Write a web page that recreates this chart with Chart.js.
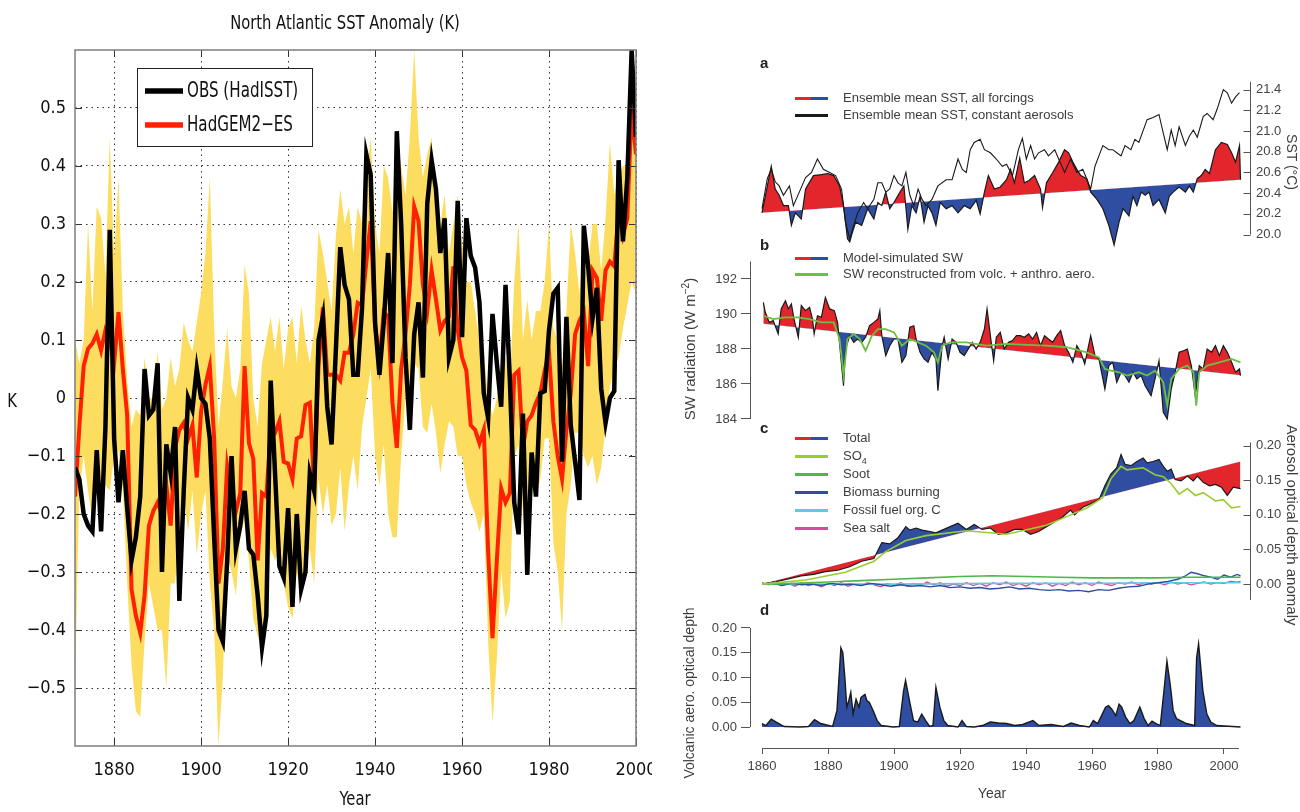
<!DOCTYPE html>
<html lang="en">
<head>
<meta charset="utf-8">
<title>North Atlantic SST and aerosol forcing</title>
<script src="https://cdn.jsdelivr.net/npm/chart.js@4.4.1/dist/chart.umd.min.js"></script>
<style>
  html, body { margin: 0; padding: 0; background: #fff; }
  body { position: relative; width: 1300px; height: 812px; overflow: hidden; }
  canvas { position: absolute; }
  #sstWrap { position: absolute; left: 0; top: 0; width: 652px; height: 812px; overflow: hidden; }
  .narrow { position: absolute; font-family: "Liberation Sans Narrow", "DejaVu Sans Condensed", sans-serif; color: #111; white-space: nowrap; transform: translate(-50%, -50%) scaleX(0.82); }
  .note { position: absolute; font-family: "Liberation Sans", Arial, sans-serif; font-size: 13px; line-height: 16px; color: #3d3d3d; white-space: nowrap; }
  .note sub { font-size: 9px; }
  .swatch { position: absolute; left: 795px; width: 33px; height: 3px; }
  .letter { position: absolute; left: 760px; font: bold 15px "Liberation Sans", Arial, sans-serif; color: #222; }
  .vtitle { position: absolute; font-family: "Liberation Sans", Arial, sans-serif; color: #3d3d3d; white-space: nowrap; transform: translate(-50%, -50%) rotate(90deg); }
  .vtitle.up { transform: translate(-50%, -50%) rotate(-90deg); }
</style>
</head>
<body>
<div id="sstWrap"><canvas id="sstChart" width="700" height="812" style="left:0;top:0"></canvas></div>
<canvas id="panelA" width="620" height="199" style="left:680px;top:68px"></canvas>
<canvas id="panelB" width="620" height="194" style="left:680px;top:243px"></canvas>
<canvas id="panelC" width="620" height="194" style="left:680px;top:423px"></canvas>
<canvas id="panelD" width="620" height="204" style="left:680px;top:608px"></canvas>

<div class="narrow" style="left:345px;top:22px;font-size:20px">North Atlantic SST Anomaly (K)</div>
<div class="narrow" style="left:12px;top:400px;font-size:20px">K</div>
<div class="narrow" style="left:355px;top:798px;font-size:20px">Year</div>

<div class="letter" style="top:54px">a</div>
<div class="letter" style="top:236px">b</div>
<div class="letter" style="top:419px">c</div>
<div class="letter" style="top:601px">d</div>

<div class="swatch" style="top:97px;background:linear-gradient(to right,#e3262b 50%,#2f4ea1 50%)"></div>
<div class="note" style="left:843px;top:90px">Ensemble mean SST, all forcings</div>
<div class="swatch" style="top:114px;background:#1a1a1a"></div>
<div class="note" style="left:843px;top:107px">Ensemble mean SST, constant aerosols</div>

<div class="swatch" style="top:257px;background:linear-gradient(to right,#e3262b 50%,#2f4ea1 50%)"></div>
<div class="note" style="left:843px;top:250px">Model-simulated SW</div>
<div class="swatch" style="top:273px;background:#6cbf45"></div>
<div class="note" style="left:843px;top:266px">SW reconstructed from volc. + anthro. aero.</div>

<div class="swatch" style="top:437px;background:linear-gradient(to right,#e3262b 50%,#2f4ea1 50%)"></div>
<div class="note" style="left:843px;top:430px">Total</div>
<div class="swatch" style="top:455px;background:#9acd32"></div>
<div class="note" style="left:843px;top:448px">SO<sub>4</sub></div>
<div class="swatch" style="top:473px;background:#4cb848"></div>
<div class="note" style="left:843px;top:466px">Soot</div>
<div class="swatch" style="top:491px;background:#2f4ea1"></div>
<div class="note" style="left:843px;top:484px">Biomass burning</div>
<div class="swatch" style="top:509px;background:#5ccbe3"></div>
<div class="note" style="left:843px;top:502px">Fossil fuel org. C</div>
<div class="swatch" style="top:527px;background:#d84a9c"></div>
<div class="note" style="left:843px;top:520px">Sea salt</div>

<div class="vtitle" style="left:1292px;top:162px;font-size:14px">SST (°C)</div>
<div class="vtitle up" style="left:689px;top:349px;font-size:15px">SW radiation (W m<sup style="font-size:10px">−2</sup>)</div>
<div class="vtitle" style="left:1292px;top:525px;font-size:15px">Aerosol optical depth anomaly</div>
<div class="vtitle up" style="left:689px;top:693px;font-size:14px">Volcanic aero. optical depth</div>
<div class="note" style="left:992px;top:793px;font-size:14px;transform:translate(-50%,-50%)">Year</div>

<script>
// ---------- left: North Atlantic SST anomaly, 1871-2000 ----------
const sstFirstYear = 1871;
const sstYearTicks = [1880, 1900, 1920, 1940, 1960, 1980, 2000];
const sstTicks = [-0.5, -0.4, -0.3, -0.2, -0.1, 0, 0.1, 0.2, 0.3, 0.4, 0.5];

const obsSst = [
    -0.12, -0.14, -0.20, -0.22, -0.23, -0.09, -0.23, -0.05, 0.29, -0.07,
    -0.18, -0.09, -0.19, -0.28, -0.24, -0.17, 0.05, -0.03, -0.02, 0.06,
    -0.30, -0.08, -0.13, -0.05, -0.35, -0.16, 0.00, -0.02, 0.05, 0.00,
    -0.01, -0.07, -0.24, -0.40, -0.42, -0.28, -0.10, -0.26, -0.22, -0.16,
    -0.26, -0.27, -0.34, -0.43, -0.375, 0.03, -0.13, -0.29, -0.31, -0.19,
    -0.36, -0.20, -0.33, -0.30, -0.13, -0.16, 0.10, 0.14, -0.015, -0.08,
    0.085, 0.26, 0.195, 0.17, 0.04, 0.04, 0.155, 0.42, 0.385, 0.13,
    0.04, 0.13, 0.25, 0.06, 0.46, 0.30, 0.07, -0.055, 0.11, 0.165,
    0.035, 0.335, 0.41, 0.36, 0.25, 0.31, 0.07, 0.10, 0.34, 0.105,
    0.31, 0.245, 0.225, 0.165, 0.008, -0.035, 0.145, 0.06, -0.015, 0.195,
    0.03, -0.18, -0.235, -0.027, -0.305, -0.094, -0.17, 0.008, 0.012, 0.117,
    0.18, 0.19, -0.11, 0.14, -0.047, -0.11, -0.176, 0.297, 0.227, 0.137,
    0.19, 0.016, -0.043, 0.0, 0.012, 0.41, 0.27, 0.38, 0.60, 0.45,
];

const modelSst = [
    -0.17, -0.05, 0.055, 0.085, 0.094, 0.11, 0.082, 0.117, 0.10, 0.06,
    0.148, 0.05, -0.03, -0.33, -0.375, -0.405, -0.34, -0.22, -0.195, -0.18,
    -0.20, -0.15, -0.22, -0.086, -0.055, -0.043, -0.07, -0.047, -0.137, -0.023,
    0.023, 0.055, -0.07, -0.32, -0.26, -0.117, -0.164, -0.195, -0.164, 0.055,
    -0.078, -0.105, -0.28, -0.164, -0.17, -0.055, -0.06, -0.04, -0.11, -0.113,
    -0.14, -0.07, -0.066, -0.012, -0.008, -0.156, 0.055, 0.156, 0.04, 0.04,
    0.04, 0.03, 0.078, 0.078, 0.11, 0.164, 0.16, 0.235, 0.305, 0.125,
    0.063, 0.148, 0.14, -0.008, -0.086, 0.05, 0.11, 0.195, 0.33, 0.305,
    0.195, 0.15, 0.22, 0.17, 0.117, 0.133, 0.14, 0.227, 0.117, 0.07,
    0.047, -0.047, -0.055, -0.078, -0.055, -0.265, -0.414, -0.28, -0.156, -0.18,
    -0.164, 0.04, 0.047, -0.086, -0.04, -0.03, -0.008, 0.008, 0.047, 0.078,
    -0.04, -0.10, -0.14, -0.055, 0.008, 0.11, 0.133, 0.148, 0.055, 0.22,
    0.207, 0.133, 0.22, 0.235, 0.227, 0.32, 0.28, 0.31, 0.50, 0.42,
];

// ensemble spread (upper / lower edge of the shaded band)
const spreadHi = [
    0.10, 0.06, 0.10, 0.30, 0.15, 0.33, 0.31, 0.21, 0.45, 0.24,
    0.38, 0.15, 0.03, -0.05, -0.02, -0.03, 0.07, 0.00, 0.00, 0.08,
    -0.02, 0.00, 0.07, 0.02, 0.05, 0.13, 0.10, 0.08, 0.13, 0.18,
    0.25, 0.38, 0.12, -0.05, 0.03, 0.12, 0.02, 0.00, 0.05, 0.23,
    0.18, 0.00, -0.05, 0.06, 0.10, 0.14, 0.08, 0.14, 0.05, 0.12,
    0.14, 0.06, 0.16, 0.10, 0.06, 0.12, 0.29, 0.25, 0.20, 0.15,
    0.28, 0.36, 0.30, 0.33, 0.25, 0.33, 0.30, 0.38, 0.45, 0.30,
    0.25, 0.40, 0.38, 0.32, 0.45, 0.40, 0.35, 0.45, 0.60, 0.45,
    0.38, 0.42, 0.45, 0.30, 0.30, 0.35, 0.25, 0.30, 0.35, 0.27,
    0.20, 0.20, 0.15, 0.10, 0.08, 0.00, -0.03, 0.00, 0.05, 0.07,
    0.02, 0.20, 0.30, 0.10, 0.17, 0.10, 0.15, 0.15, 0.20, 0.30,
    0.12, 0.10, 0.05, 0.15, 0.30, 0.25, 0.18, 0.27, 0.23, 0.30,
    0.30, 0.22, 0.31, 0.44, 0.35, 0.38, 0.40, 0.40, 0.60, 0.55,
];

const spreadLo = [
    -0.49, -0.16, -0.10, -0.16, -0.21, -0.16, -0.16, -0.15, -0.16, -0.10,
    -0.09, -0.16, -0.32, -0.46, -0.54, -0.55, -0.42, -0.32, -0.36, -0.40,
    -0.40, -0.50, -0.32, -0.32, -0.23, -0.16, -0.23, -0.16, -0.27, -0.20,
    -0.16, -0.32, -0.40, -0.60, -0.48, -0.27, -0.30, -0.34, -0.24, -0.21,
    -0.28, -0.38, -0.41, -0.43, -0.40, -0.26, -0.28, -0.26, -0.32, -0.36,
    -0.38, -0.30, -0.34, -0.30, -0.26, -0.32, -0.14, -0.20, -0.15, -0.22,
    -0.20, -0.12, -0.23, -0.15, -0.10, -0.16, -0.05, 0.00, 0.05, -0.10,
    -0.15, -0.08, -0.20, -0.24, -0.24, -0.10, 0.00, 0.02, 0.06, 0.05,
    -0.05, -0.06, -0.01, -0.06, -0.13, -0.08, -0.04, -0.05, -0.10, -0.10,
    -0.15, -0.18, -0.20, -0.23, -0.20, -0.42, -0.56, -0.45, -0.30, -0.38,
    -0.35, -0.10, -0.08, -0.20, -0.28, -0.16, -0.17, -0.14, -0.07, -0.07,
    -0.25, -0.30, -0.40, -0.20, -0.15, -0.06, -0.06, -0.10, -0.12, -0.10,
    -0.15, -0.12, -0.05, 0.02, 0.05, 0.07, 0.12, 0.16, 0.20, 0.18,
];

// ---------- right: panels a-d, 1860-2005 ([year, value]) ----------
const rightYearTicks = [1860, 1880, 1900, 1920, 1940, 1960, 1980, 2000];

// a: SST (°C)
const sstTicksA = [20.0, 20.2, 20.4, 20.6, 20.8, 21.0, 21.2, 21.4];
const sstTrendA = [[1860, 20.21], [2005, 20.53]];
const sstAllForcings = [
    [1860.0, 20.21], [1861.0, 20.37], [1862.8, 20.66], [1864.0, 20.44], [1865.2, 20.38],
    [1866.5, 20.28], [1868.0, 20.28], [1868.9, 20.09], [1870.1, 20.21], [1871.9, 20.15],
    [1873.2, 20.44], [1875.6, 20.57], [1878.0, 20.58], [1879.9, 20.59], [1881.7, 20.57],
    [1883.5, 20.47], [1884.7, 20.28], [1885.9, 19.96], [1886.6, 19.93], [1887.2, 20.0],
    [1888.4, 20.12], [1890.2, 20.09], [1892.0, 20.25], [1893.9, 20.15], [1895.1, 20.31],
    [1896.3, 20.28], [1897.5, 20.41], [1898.7, 20.25], [1900.0, 20.31], [1901.8, 20.41],
    [1903.0, 20.47], [1904.2, 20.05], [1905.4, 20.28], [1906.7, 20.21], [1907.9, 20.37],
    [1909.1, 20.12], [1910.3, 20.28], [1911.5, 20.21], [1912.7, 20.09], [1914.0, 20.31],
    [1915.8, 20.25], [1917.6, 20.28], [1919.4, 20.21], [1921.3, 20.28], [1923.1, 20.25],
    [1924.9, 20.33], [1926.1, 20.2], [1927.4, 20.41], [1928.6, 20.57], [1930.4, 20.44],
    [1932.2, 20.46], [1934.1, 20.53], [1935.3, 20.63], [1936.5, 20.5], [1938.1, 20.74],
    [1939.5, 20.5], [1940.8, 20.52], [1942.6, 20.57], [1944.4, 20.44], [1945.0, 20.26],
    [1946.2, 20.5], [1948.1, 20.6], [1949.9, 20.7], [1951.7, 20.82], [1952.9, 20.79],
    [1954.2, 20.7], [1955.4, 20.63], [1956.6, 20.57], [1958.4, 20.54], [1959.6, 20.41],
    [1961.5, 20.34], [1963.3, 20.25], [1965.1, 20.09], [1966.7, 19.9], [1968.2, 20.12],
    [1969.4, 20.25], [1971.2, 20.18], [1972.4, 20.37], [1973.6, 20.28], [1974.9, 20.41],
    [1976.1, 20.38], [1977.3, 20.41], [1978.5, 20.28], [1980.3, 20.34], [1982.2, 20.21],
    [1983.4, 20.37], [1984.6, 20.41], [1986.4, 20.46], [1988.3, 20.41], [1989.5, 20.47],
    [1990.7, 20.41], [1991.9, 20.54], [1993.1, 20.57], [1994.3, 20.63], [1995.6, 20.59],
    [1997.4, 20.82], [1999.2, 20.89], [2001.0, 20.87], [2002.3, 20.79], [2003.5, 20.7],
    [2004.7, 20.86], [2005.0, 20.53],
];
const sstConstAerosol = [
    [1860.0, 20.25], [1861.6, 20.54], [1862.8, 20.63], [1864.0, 20.51], [1865.2, 20.47],
    [1866.5, 20.38], [1868.3, 20.47], [1869.5, 20.28], [1871.3, 20.41], [1873.2, 20.55],
    [1875.0, 20.6], [1876.8, 20.73], [1878.6, 20.63], [1880.5, 20.6], [1882.3, 20.57],
    [1884.1, 20.44], [1885.3, 20.12], [1886.6, 19.96], [1887.8, 20.09], [1889.0, 20.21],
    [1890.8, 20.31], [1892.0, 20.25], [1893.9, 20.34], [1895.1, 20.5], [1896.3, 20.5],
    [1897.5, 20.41], [1898.7, 20.44], [1900.0, 20.57], [1901.2, 20.5], [1902.4, 20.47],
    [1903.6, 20.6], [1904.8, 20.38], [1906.0, 20.28], [1907.3, 20.44], [1908.5, 20.34],
    [1909.7, 20.28], [1911.5, 20.34], [1913.3, 20.47], [1915.8, 20.53], [1917.6, 20.53],
    [1919.4, 20.73], [1920.7, 20.63], [1921.9, 20.6], [1923.1, 20.82], [1924.3, 20.89],
    [1926.1, 20.92], [1927.4, 20.82], [1929.2, 20.79], [1931.0, 20.73], [1932.8, 20.66],
    [1934.1, 20.68], [1935.9, 20.57], [1937.7, 20.82], [1938.9, 20.93], [1940.1, 20.73],
    [1941.4, 20.86], [1942.6, 20.73], [1943.8, 20.79], [1945.6, 20.82], [1946.8, 20.76],
    [1948.7, 20.82], [1949.9, 20.73], [1951.7, 20.6], [1953.5, 20.73], [1955.4, 20.6],
    [1957.2, 20.63], [1958.4, 20.54], [1959.6, 20.44], [1960.9, 20.66], [1962.1, 20.76],
    [1963.3, 20.86], [1965.1, 20.82], [1966.3, 20.82], [1967.5, 20.79], [1968.8, 20.76],
    [1970.0, 20.86], [1971.8, 20.82], [1973.0, 20.92], [1974.2, 20.89], [1976.7, 21.11],
    [1978.5, 21.13], [1980.3, 21.16], [1981.6, 20.98], [1982.8, 20.82], [1984.0, 21.01],
    [1985.2, 20.86], [1986.4, 21.04], [1988.3, 20.86], [1989.5, 20.95], [1990.7, 21.01],
    [1991.9, 20.94], [1993.7, 21.14], [1994.9, 21.17], [1996.7, 21.11], [1997.9, 21.21],
    [1999.8, 21.40], [2001.0, 21.37], [2002.3, 21.27], [2003.5, 21.33], [2004.7, 21.37],
];

// b: SW radiation (W m-2)
const swTicks = [184, 186, 188, 190, 192];
const swTrend = [[1860, 189.45], [2005, 186.5]];
const swModel = [
    [1860.4, 190.67], [1861.0, 190.1], [1862.2, 189.52], [1863.4, 189.62], [1864.9, 188.86],
    [1865.8, 190.29], [1867.1, 190.76], [1868.0, 190.29], [1868.9, 190.57], [1869.7, 189.71],
    [1871.0, 188.67], [1871.9, 190.48], [1873.2, 190.19], [1874.4, 190.38], [1875.3, 189.71],
    [1875.8, 188.86], [1876.8, 189.9], [1878.0, 189.81], [1879.2, 190.95], [1880.5, 190.29],
    [1881.9, 190.19], [1882.9, 189.52], [1884.7, 185.9], [1885.3, 188.0], [1886.6, 188.76],
    [1887.8, 188.38], [1889.0, 188.57], [1890.2, 188.38], [1891.4, 188.67], [1892.6, 189.33],
    [1893.9, 189.52], [1895.1, 189.71], [1895.7, 190.19], [1896.3, 188.76], [1897.5, 187.62],
    [1898.7, 188.19], [1900.0, 188.57], [1901.2, 188.57], [1902.4, 187.24], [1903.6, 187.62],
    [1904.8, 189.24], [1906.0, 189.33], [1906.7, 188.57], [1907.9, 187.81], [1909.1, 187.43],
    [1910.3, 187.24], [1911.5, 187.81], [1912.7, 187.43], [1913.3, 185.62], [1914.6, 188.19],
    [1915.2, 188.67], [1916.4, 187.43], [1917.6, 188.57], [1918.8, 188.38], [1920.0, 187.81],
    [1921.3, 187.62], [1922.5, 188.0], [1923.7, 188.38], [1924.9, 188.0], [1926.1, 188.38],
    [1927.4, 189.14], [1928.2, 190.29], [1929.2, 188.76], [1930.2, 187.33], [1931.0, 188.67],
    [1932.2, 188.95], [1933.4, 188.0], [1934.7, 188.38], [1935.9, 188.48], [1937.1, 188.76],
    [1938.3, 188.76], [1939.5, 188.67], [1940.8, 188.86], [1942.0, 188.57], [1943.2, 188.95],
    [1944.4, 188.19], [1945.6, 188.76], [1946.8, 188.57], [1948.1, 188.38], [1949.3, 188.76],
    [1950.5, 189.05], [1951.7, 188.19], [1952.9, 187.81], [1954.2, 187.24], [1955.4, 188.19],
    [1956.6, 187.81], [1957.8, 187.14], [1959.6, 188.76], [1960.9, 187.62], [1962.1, 187.43],
    [1963.9, 185.71], [1965.1, 187.05], [1966.3, 187.24], [1967.5, 186.1], [1968.8, 186.67],
    [1970.0, 186.48], [1971.2, 186.1], [1972.4, 186.67], [1973.6, 186.29], [1974.9, 186.48],
    [1976.1, 185.9], [1977.9, 185.33], [1979.1, 186.29], [1980.3, 187.33], [1981.6, 184.38],
    [1982.8, 184.0], [1984.0, 185.71], [1985.2, 186.67], [1986.4, 187.81], [1987.7, 187.9],
    [1988.9, 188.0], [1990.1, 187.05], [1991.3, 185.33], [1992.5, 187.05], [1993.7, 186.86],
    [1994.9, 188.0], [1996.2, 187.81], [1997.4, 188.19], [1998.6, 187.62], [1999.8, 188.19],
    [2001.0, 187.81], [2002.3, 187.24], [2003.5, 186.67], [2004.7, 186.86], [2005.0, 186.48],
];
const swReconstructed = [
    [1860.4, 189.9], [1863.4, 189.71], [1867.1, 189.81], [1870.7, 189.81], [1874.4, 189.71],
    [1878.0, 189.52], [1881.7, 189.52], [1883.5, 188.57], [1884.7, 186.48], [1885.9, 188.57],
    [1887.8, 188.86], [1889.6, 188.57], [1891.4, 187.9], [1893.3, 188.76], [1895.1, 189.14],
    [1897.5, 189.14], [1900.0, 188.95], [1902.4, 188.19], [1903.6, 188.38], [1904.8, 188.57],
    [1907.3, 188.38], [1909.7, 188.19], [1912.1, 187.81], [1913.3, 187.24], [1914.6, 188.19],
    [1917.0, 188.38], [1921.9, 188.38], [1928.0, 188.19], [1934.1, 188.29], [1940.1, 188.23],
    [1946.2, 188.19], [1952.3, 188.1], [1958.4, 187.81], [1962.1, 187.52], [1963.9, 186.86],
    [1965.7, 186.76], [1968.2, 186.67], [1970.6, 186.48], [1974.2, 186.67], [1976.7, 186.48],
    [1979.1, 186.76], [1981.6, 186.1], [1982.8, 184.76], [1984.0, 186.29], [1986.4, 186.86],
    [1988.9, 187.05], [1990.7, 186.67], [1991.6, 184.76], [1992.5, 186.67], [1994.9, 187.05],
    [1998.6, 187.24], [2002.3, 187.43], [2005.0, 187.24],
];

// c: aerosol optical depth anomaly
const aodTicks = [0.00, 0.05, 0.10, 0.15, 0.20];
const aodTrend = [[1860, 0.0], [2005, 0.177]];
const aodTotal = [
    [1860.0, 0.0], [1864.6, 0.004], [1868.3, 0.008], [1871.9, 0.012], [1875.6, 0.014],
    [1879.2, 0.018], [1882.9, 0.02], [1886.6, 0.025], [1890.2, 0.033], [1893.9, 0.037],
    [1896.3, 0.06], [1898.7, 0.058], [1901.2, 0.067], [1903.6, 0.083], [1904.8, 0.078],
    [1906.7, 0.081], [1908.5, 0.078], [1910.9, 0.076], [1912.7, 0.074], [1914.6, 0.078],
    [1917.0, 0.083], [1919.4, 0.088], [1921.9, 0.079], [1924.3, 0.086], [1926.7, 0.079],
    [1929.2, 0.081], [1931.6, 0.072], [1934.1, 0.074], [1936.5, 0.079], [1938.9, 0.079],
    [1941.4, 0.072], [1943.8, 0.076], [1946.2, 0.083], [1948.7, 0.09], [1951.1, 0.097],
    [1953.5, 0.107], [1954.7, 0.1], [1957.2, 0.111], [1959.6, 0.116], [1962.1, 0.122],
    [1963.9, 0.142], [1965.7, 0.159], [1967.5, 0.168], [1968.8, 0.187], [1970.0, 0.173],
    [1971.8, 0.171], [1973.6, 0.177], [1975.5, 0.182], [1976.7, 0.175], [1978.5, 0.177],
    [1980.3, 0.18], [1981.6, 0.17], [1982.8, 0.163], [1984.0, 0.166], [1985.2, 0.151],
    [1987.0, 0.149], [1988.9, 0.156], [1990.7, 0.149], [1991.9, 0.156], [1993.7, 0.147],
    [1995.6, 0.142], [1997.4, 0.144], [1999.2, 0.14], [2001.0, 0.128], [2002.8, 0.14],
    [2005.0, 0.138],
];
const aodSulphate = [
    [1860.0, 0.0], [1873.2, 0.006], [1885.3, 0.017], [1893.9, 0.033], [1897.5, 0.047],
    [1903.6, 0.063], [1909.7, 0.07], [1921.9, 0.077], [1934.1, 0.072], [1946.2, 0.085],
    [1953.5, 0.1], [1958.4, 0.11], [1963.3, 0.125], [1965.7, 0.152], [1968.8, 0.17],
    [1970.6, 0.165], [1975.5, 0.168], [1979.1, 0.158], [1981.6, 0.155], [1984.0, 0.145],
    [1986.4, 0.13], [1988.9, 0.138], [1991.3, 0.128], [1993.7, 0.132], [1997.4, 0.12],
    [1999.8, 0.122], [2002.3, 0.11], [2005.0, 0.112],
];
const aodSoot = [
    [1860, 0.0], [1870, 0.001], [1880, 0.003], [1890, 0.005], [1900, 0.007], [1910, 0.009],
    [1920, 0.011], [1930, 0.012], [1940, 0.011], [1950, 0.010], [1960, 0.009], [1970, 0.009],
    [1980, 0.009], [1990, 0.010], [2000, 0.010], [2005, 0.010],
];
const aodBiomass = [
    [1860, 0.000], [1863, 0.002], [1866, -0.002], [1869, 0.001], [1872, -0.001], [1875, 0.000],
    [1878, -0.002], [1881, 0.001], [1884, -0.001], [1887, 0.000], [1890, -0.002], [1893, 0.001],
    [1896, -0.001], [1899, -0.003], [1902, -0.001], [1905, -0.003], [1908, -0.002], [1911, -0.004],
    [1914, -0.002], [1917, -0.005], [1920, -0.004], [1923, -0.006], [1926, -0.005], [1929, -0.007],
    [1932, -0.006], [1935, -0.004], [1938, -0.007], [1941, -0.006], [1944, -0.008], [1947, -0.009],
    [1950, -0.008], [1953, -0.010], [1956, -0.009], [1959, -0.011], [1962, -0.008], [1965, -0.009],
    [1968, -0.006], [1971, -0.004], [1974, -0.003], [1977, 0.000], [1980, 0.002], [1983, 0.004],
    [1986, 0.007], [1988, 0.011], [1990, 0.017], [1992, 0.015], [1994, 0.012], [1996, 0.010],
    [1998, 0.007], [2000, 0.013], [2002, 0.010], [2004, 0.014], [2005, 0.012],
];
const aodFossilOC = [
    [1860, 0.0], [1900, 0.0], [1930, 0.001], [1960, 0.001], [1980, 0.002], [2005, 0.002],
];
const aodSeaSalt = [
    [1860, 0.002], [1862, -0.001], [1864, 0.003], [1866, -0.002], [1868, 0.001], [1870, -0.003],
    [1872, 0.002], [1874, -0.002], [1876, 0.000], [1878, -0.004], [1880, 0.001], [1882, -0.002],
    [1884, 0.002], [1886, -0.003], [1888, 0.000], [1890, -0.002], [1892, 0.002], [1894, -0.001],
    [1896, -0.004], [1898, 0.001], [1900, -0.002], [1902, 0.002], [1904, -0.003], [1906, 0.001],
    [1908, -0.002], [1910, 0.003], [1912, -0.001], [1914, 0.002], [1916, -0.003], [1918, 0.000],
    [1920, -0.002], [1922, 0.002], [1924, -0.002], [1926, 0.001], [1928, -0.003], [1930, 0.002],
    [1932, -0.001], [1934, 0.003], [1936, -0.002], [1938, 0.001], [1940, -0.003], [1942, 0.002],
    [1944, -0.001], [1946, 0.002], [1948, -0.003], [1950, 0.001], [1952, -0.002], [1954, 0.003],
    [1956, -0.001], [1958, 0.002], [1960, -0.002], [1962, 0.003], [1964, 0.000], [1966, -0.002],
    [1968, 0.002], [1970, 0.000], [1972, 0.003], [1974, -0.001], [1976, 0.002], [1978, 0.000],
    [1980, 0.002], [1982, -0.001], [1984, 0.003], [1986, 0.000], [1988, 0.002], [1990, -0.001],
    [1992, 0.001], [1994, 0.003], [1996, 0.000], [1998, 0.002], [2000, 0.001], [2002, 0.004],
    [2004, 0.003], [2005, 0.004],
];

// d: volcanic aerosol optical depth
const volcTicks = [0.00, 0.05, 0.10, 0.15, 0.20];
const volcanicAod = [
    [1860.0, 0.007], [1861.2, 0.003], [1862.8, 0.016], [1864.3, 0.01], [1866.7, 0.001],
    [1871.6, 0.0], [1874.1, 0.001], [1875.9, 0.015], [1877.8, 0.007], [1881.4, 0.001],
    [1882.7, 0.033], [1883.9, 0.16], [1884.5, 0.15], [1885.1, 0.1], [1885.7, 0.04],
    [1886.3, 0.053], [1886.9, 0.07], [1887.6, 0.027], [1888.5, 0.056], [1889.4, 0.04],
    [1890.0, 0.06], [1891.2, 0.066], [1891.8, 0.053], [1892.5, 0.05], [1893.7, 0.033],
    [1894.9, 0.013], [1896.1, 0.003], [1899.8, 0.0], [1901.6, 0.001], [1902.9, 0.073],
    [1903.5, 0.094], [1904.7, 0.053], [1905.9, 0.013], [1907.2, 0.01], [1908.4, 0.026],
    [1909.6, 0.013], [1910.8, 0.001], [1911.8, 0.003], [1912.7, 0.08], [1913.9, 0.04],
    [1915.1, 0.013], [1916.3, 0.003], [1919.4, 0.0], [1920.6, 0.013], [1921.9, 0.001],
    [1924.3, 0.0], [1926.8, 0.003], [1929.2, 0.01], [1931.7, 0.008], [1934.1, 0.007],
    [1936.6, 0.003], [1939.0, 0.005], [1942.1, 0.013], [1943.9, 0.003], [1947.6, 0.005],
    [1951.3, 0.001], [1953.7, 0.008], [1956.2, 0.003], [1959.2, 0.0], [1960.4, 0.013],
    [1961.7, 0.007], [1962.9, 0.023], [1964.1, 0.04], [1965.0, 0.043], [1966.0, 0.036],
    [1967.2, 0.023], [1968.2, 0.046], [1969.0, 0.04], [1970.2, 0.02], [1971.5, 0.007],
    [1972.7, 0.013], [1974.5, 0.04], [1975.8, 0.017], [1977.0, 0.003], [1978.2, 0.012],
    [1979.4, 0.007], [1980.7, 0.003], [1981.9, 0.079], [1982.7, 0.133], [1983.7, 0.086],
    [1984.6, 0.033], [1985.6, 0.017], [1986.8, 0.013], [1988.6, 0.007], [1989.8, 0.005],
    [1991.1, 0.003], [1991.7, 0.14], [1992.3, 0.168], [1993.6, 0.073], [1994.8, 0.026],
    [1996.0, 0.01], [1997.8, 0.003], [2005.0, 0.0],
];

const RED = "#e3262b";
const BLUE = "#2f4ea1";
const NARROW = '"Liberation Sans Narrow", "DejaVu Sans Condensed", sans-serif';
const SANS = '"Liberation Sans", Arial, sans-serif';

const yearPoints = (vals, start) => vals.map((v, i) => ({ x: start + i, y: v }));
const pairPoints = (arr) => arr.map(([x, y]) => ({ x, y }));
const fixedTicks = (vals) => (scale) => {
    scale.ticks = vals.map((v) => ({ value: v }));
};
const minusLabel = (v) =>
    v === 0 ? "0" : (v < 0 ? "\u2212" : "") + Math.abs(v).toFixed(1);
const yearLabel = (v) => String(v);

Chart.defaults.animation = false;
Chart.defaults.events = [];

// frame, inward ticks and the legend box for the SST panel
const sstFrame = {
    id: "sstFrame",
    afterDraw(chart) {
        const { ctx, chartArea: a, scales } = chart;
        ctx.save();
        ctx.strokeStyle = "#333";
        ctx.lineWidth = 1;
        ctx.beginPath();
        scales.x.ticks.forEach((t) => {
            const x = Math.round(scales.x.getPixelForValue(t.value)) + 0.5;
            ctx.moveTo(x, a.bottom);
            ctx.lineTo(x, a.bottom - 7);
            ctx.moveTo(x, a.top);
            ctx.lineTo(x, a.top + 7);
        });
        scales.y.ticks.forEach((t) => {
            const y = Math.round(scales.y.getPixelForValue(t.value)) + 0.5;
            ctx.moveTo(a.left, y);
            ctx.lineTo(a.left + 7, y);
            ctx.moveTo(a.right, y);
            ctx.lineTo(a.right - 7, y);
        });
        ctx.stroke();

        ctx.strokeStyle = "#7d7d7d";
        ctx.lineWidth = 1.5;
        ctx.strokeRect(a.left, a.top, a.width, a.height);

        // legend
        ctx.fillStyle = "#fff";
        ctx.fillRect(137, 68, 175, 78);
        ctx.strokeStyle = "#222";
        ctx.lineWidth = 1;
        ctx.strokeRect(137.5, 68.5, 175, 78);
        const rows = [
            [chart.data.datasets[0], 91],
            [chart.data.datasets[1], 125],
        ];
        ctx.font = "21px " + NARROW;
        ctx.textBaseline = "middle";
        rows.forEach(([ds, y]) => {
            ctx.strokeStyle = ds.borderColor;
            ctx.lineWidth = 5.5;
            ctx.beginPath();
            ctx.moveTo(145, y);
            ctx.lineTo(183, y);
            ctx.stroke();
            ctx.save();
            ctx.translate(187, y + 1);
            ctx.scale(0.8, 1);
            ctx.fillStyle = "#111";
            ctx.fillText(ds.label, 0, 0);
            ctx.restore();
        });
        ctx.restore();
    },
};

new Chart(document.getElementById("sstChart"), {
    type: "line",
    data: {
        datasets: [
            {
                label: "OBS (HadISST)",
                data: yearPoints(obsSst, sstFirstYear),
                borderColor: "#000",
                borderWidth: 4.5,
                pointRadius: 0,
                fill: false,
            },
            {
                label: "HadGEM2\u2212ES",
                data: yearPoints(modelSst, sstFirstYear),
                borderColor: "#ff2000",
                borderWidth: 4,
                pointRadius: 0,
                fill: false,
            },
            {
                label: "spread max",
                data: yearPoints(spreadHi, sstFirstYear),
                borderWidth: 0,
                pointRadius: 0,
                backgroundColor: "#fddd5f",
                fill: "+1",
            },
            {
                label: "spread min",
                data: yearPoints(spreadLo, sstFirstYear),
                borderWidth: 0,
                pointRadius: 0,
                fill: false,
            },
        ],
    },
    options: {
        responsive: false,
        layout: { padding: { top: 50, right: 64, left: 0, bottom: 0 } },
        plugins: { legend: { display: false }, tooltip: { enabled: false } },
        elements: { line: { tension: 0 } },
        scales: {
            x: {
                type: "linear",
                min: 1871,
                max: 2000,
                afterBuildTicks: fixedTicks(sstYearTicks),
                afterFit: (s) => { s.height = 66; },
                ticks: { color: "#111", font: { family: NARROW, size: 18 }, padding: 14, maxRotation: 0, autoSkip: false, callback: yearLabel },
                grid: { color: "#333", lineWidth: 1, drawTicks: false },
                border: { display: false, dash: [1.5, 4] },
            },
            y: {
                min: -0.6,
                max: 0.6,
                afterBuildTicks: fixedTicks(sstTicks),
                afterFit: (s) => { s.width = 75; },
                ticks: { color: "#111", font: { family: NARROW, size: 18 }, padding: 9, autoSkip: false, callback: minusLabel },
                grid: { color: "#333", lineWidth: 1, drawTicks: false },
                border: { display: false, dash: [1.5, 4] },
            },
        },
    },
    plugins: [sstFrame],
});

// axis lines that only span part of a panel, with optional inward ticks
const axisLines = {
    id: "axisLines",
    afterDraw(chart, args, opts) {
        const { ctx, chartArea: a, scales } = chart;
        ctx.save();
        ctx.strokeStyle = "#555";
        ctx.lineWidth = 1;
        if (opts.y) {
            const ys = scales.y;
            const x = (opts.y.side === "right" ? a.right : a.left) + 0.5;
            ctx.beginPath();
            ctx.moveTo(x, ys.getPixelForValue(opts.y.from));
            ctx.lineTo(x, ys.getPixelForValue(opts.y.to));
            if (opts.y.inward) {
                ys.ticks.forEach((t) => {
                    const y = Math.round(ys.getPixelForValue(t.value)) + 0.5;
                    ctx.moveTo(x, y);
                    ctx.lineTo(x - 7, y);
                });
            }
            ctx.stroke();
        }
        if (opts.x) {
            const xs = scales.x;
            const y = a.bottom + 0.5;
            ctx.beginPath();
            ctx.moveTo(xs.getPixelForValue(opts.x.from), y);
            ctx.lineTo(xs.getPixelForValue(opts.x.to), y);
            ctx.stroke();
        }
        ctx.restore();
    },
};

const RIGHT_X = { min: 1856.36, max: 2007.88 };

function panel(id, { datasets, yRange, yTicks, side, fmt, lines, showYears }) {
    const left = side === "left";
    return new Chart(document.getElementById(id), {
        type: "line",
        data: { datasets },
        options: {
            responsive: false,
            layout: {
                padding: { top: 12, bottom: showYears ? 0 : 12, left: left ? 0 : 70, right: left ? 50 : 0 },
            },
            plugins: { legend: { display: false }, tooltip: { enabled: false }, axisLines: lines },
            elements: { line: { tension: 0 }, point: { radius: 0 } },
            scales: {
                x: {
                    type: "linear",
                    min: RIGHT_X.min,
                    max: RIGHT_X.max,
                    display: !!showYears,
                    afterBuildTicks: fixedTicks(rightYearTicks),
                    afterFit: (s) => { if (showYears) s.height = 64; },
                    ticks: { color: "#444", font: { family: SANS, size: 13 }, padding: 5, maxRotation: 0, autoSkip: false, callback: yearLabel },
                    grid: { drawOnChartArea: false, drawTicks: true, tickLength: 6, color: "#555" },
                    border: { display: false },
                },
                y: {
                    position: side,
                    min: yRange[0],
                    max: yRange[1],
                    afterBuildTicks: fixedTicks(yTicks),
                    afterFit: (s) => { s.width = left ? 70 : 50; },
                    ticks: { color: "#444", font: { family: SANS, size: 13 }, padding: left ? 4 : 6, autoSkip: false, callback: fmt },
                    grid: { drawOnChartArea: false, drawTicks: left, tickLength: 9, color: "#555" },
                    border: { display: false },
                },
            },
        },
        plugins: [axisLines],
    });
}

panel("panelA", {
    side: "right",
    yRange: [19.8203, 21.4757],
    yTicks: sstTicksA,
    fmt: (v) => v.toFixed(1),
    lines: { y: { side: "right", from: 21.4757, to: 20.0, inward: true } },
    datasets: [
        { label: "constant aerosols", data: pairPoints(sstConstAerosol), borderColor: "#1a1a1a", borderWidth: 1.1, fill: false },
        {
            label: "all forcings",
            data: pairPoints(sstAllForcings),
            borderColor: "#1a1a1a",
            borderWidth: 1.2,
            fill: { target: 2, above: RED, below: BLUE },
        },
        { label: "trend", data: pairPoints(sstTrendA), borderWidth: 0, fill: false },
    ],
});

panel("panelB", {
    side: "left",
    yRange: [183.657, 193.371],
    yTicks: swTicks,
    fmt: (v) => String(v),
    lines: { y: { side: "left", from: 193.0, to: 184 } },
    datasets: [
        { label: "reconstructed", data: pairPoints(swReconstructed), borderColor: "#6cbf45", borderWidth: 1.8, fill: false },
        {
            label: "model SW",
            data: pairPoints(swModel),
            borderColor: "#1a1a1a",
            borderWidth: 1.2,
            fill: { target: 2, above: RED, below: BLUE },
        },
        { label: "trend", data: pairPoints(swTrend), borderWidth: 0, fill: false },
    ],
});

panel("panelC", {
    side: "right",
    yRange: [-0.02756, 0.21272],
    yTicks: aodTicks,
    fmt: (v) => v.toFixed(2),
    lines: { y: { side: "right", from: 0.2045, to: -0.023, inward: true } },
    datasets: [
        { label: "SO4", data: pairPoints(aodSulphate), borderColor: "#9acd32", borderWidth: 1.6, fill: false },
        { label: "Soot", data: pairPoints(aodSoot), borderColor: "#4cb848", borderWidth: 1.6, fill: false },
        { label: "Biomass burning", data: pairPoints(aodBiomass), borderColor: BLUE, borderWidth: 1.4, fill: false },
        { label: "Fossil fuel org. C", data: pairPoints(aodFossilOC), borderColor: "#5ccbe3", borderWidth: 1.6, fill: false },
        { label: "Sea salt", data: pairPoints(aodSeaSalt), borderColor: "#d84a9c", borderWidth: 1.3, fill: false },
        {
            label: "Total",
            data: pairPoints(aodTotal),
            borderColor: "#1a1a1a",
            borderWidth: 1.2,
            fill: { target: 6, above: BLUE, below: RED },
        },
        { label: "trend", data: pairPoints(aodTrend), borderWidth: 0, fill: false },
    ],
});

panel("panelD", {
    side: "left",
    yRange: [-0.04242, 0.21616],
    yTicks: volcTicks,
    fmt: (v) => v.toFixed(2),
    showYears: true,
    lines: { y: { side: "left", from: 0.2, to: 0 }, x: { from: 1860, to: 2004.5 } },
    datasets: [
        {
            label: "volcanic",
            data: pairPoints(volcanicAod),
            borderColor: "#1a1a1a",
            borderWidth: 1.4,
            backgroundColor: BLUE,
            fill: "origin",
        },
    ],
});
</script>
</body>
</html>
